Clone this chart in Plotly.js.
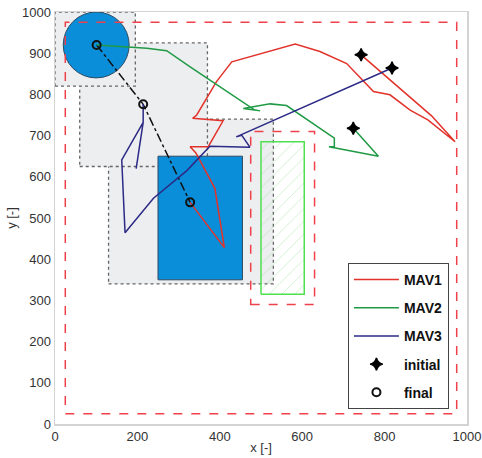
<!DOCTYPE html>
<html>
<head>
<meta charset="utf-8">
<script src="https://cdn.plot.ly/plotly-3.0.1.min.js"></script>
<style>html,body{margin:0;padding:0;background:#fff;}#chart{width:482px;height:458px;}</style>
</head>
<body>
<div id="chart"></div>
<script>
// ---- data ----
const mav1X = [743, 914, 971, 905, 862, 813, 773, 708, 643, 583, 429, 392, 344, 334, 408, 372, 328, 342, 388, 411, 328];
const mav1Y = [896, 748, 685, 738, 762, 799, 807, 875, 904, 922, 879, 831, 750, 742, 736, 673, 673, 658, 572, 428, 538];

const mav2X = [724, 785, 665, 678, 678, 640, 595, 562, 522, 481, 457, 498, 485, 328, 271, 223, 109, 101];
const mav2Y = [718, 650, 673, 673, 694, 720, 750, 773, 777, 770, 766, 760, 762, 867, 906, 912, 918, 920];

const mav3X = [818, 440, 453, 473, 376, 320, 239, 170, 162, 214, 197, 214, 214];
const mav3Y = [864, 697, 701, 672, 674, 615, 548, 464, 641, 732, 620, 732, 776];

const initialX = [743, 724, 818];
const initialY = [896, 718, 864];
const finalX = [101, 214, 328];
const finalY = [920, 776, 538];

// zones: [x0, x1, y0, y1]
const greyZones = [[130, 530, 340, 740], [60, 370, 625, 925], [0, 195, 820, 1000]];
const blueRect = [250, 455, 350, 650];
const blueCircle = [20, 180, 840, 1000];
const outerBound = [25, 975, 25, 975];
const innerBound = [475, 630, 290, 710];
const hatchRect = [500, 605, 315, 685];

const xTicks = [0, 200, 400, 600, 800, 1000];
const yTicks = [0, 100, 200, 300, 400, 500, 600, 700, 800, 900, 1000];

// ---- shapes ----
const shapes = [];
greyZones.forEach(z => shapes.push({type: 'rect', layer: 'below', xref: 'x', yref: 'y',
  x0: z[0], x1: z[1], y0: z[2], y1: z[3], fillcolor: '#edeef0',
  line: {color: '#666', width: 1.3, dash: 'dot'}}));
shapes.push({type: 'rect', layer: 'below', xref: 'x', yref: 'y',
  x0: blueRect[0], x1: blueRect[1], y0: blueRect[2], y1: blueRect[3],
  fillcolor: '#0a8ed9', line: {color: '#2e4b63', width: 1}});
shapes.push({type: 'circle', layer: 'below', xref: 'x', yref: 'y',
  x0: blueCircle[0], x1: blueCircle[1], y0: blueCircle[2], y1: blueCircle[3],
  fillcolor: '#0a8ed9', line: {color: '#2e4b63', width: 1}});
[outerBound, innerBound].forEach(b => shapes.push({type: 'rect', layer: 'below', xref: 'x', yref: 'y',
  x0: b[0], x1: b[1], y0: b[2], y1: b[3], fillcolor: 'rgba(0,0,0,0)',
  line: {color: '#f0404a', width: 1.5, dash: 'dash'}}));

const red = '#e2332b', green = '#1f9a45', navy = '#2c2a86';

const traces = [
  {x: [hatchRect[0], hatchRect[1], hatchRect[1], hatchRect[0], hatchRect[0]],
   y: [hatchRect[2], hatchRect[2], hatchRect[3], hatchRect[3], hatchRect[2]],
   mode: 'lines', fill: 'toself', fillcolor: 'rgba(255,255,255,0)',
   fillpattern: {shape: '/', fgcolor: 'rgba(120,210,120,0.45)', bgcolor: 'rgba(255,255,255,0)', size: 9, solidity: 0.08},
   line: {color: '#4fe04f', width: 1.5}, showlegend: false, hoverinfo: 'skip'},
  {x: finalX, y: finalY, mode: 'lines', line: {color: '#111', width: 1.5, dash: 'dashdot'}, showlegend: false},
  {x: mav1X, y: mav1Y, mode: 'lines', name: 'MAV1', legendgroup: 'a', line: {color: red, width: 1.5}},
  {x: mav2X, y: mav2Y, mode: 'lines', name: 'MAV2', legendgroup: 'b', line: {color: green, width: 1.5}},
  {x: mav3X, y: mav3Y, mode: 'lines', name: 'MAV3', legendgroup: 'c', line: {color: navy, width: 1.5}},
  {x: initialX, y: initialY, mode: 'markers', name: 'initial', legendgroup: 'd',
   marker: {symbol: 'star-diamond', size: 9, color: '#000', line: {color: '#000', width: 1.5}}},
  {x: finalX, y: finalY, mode: 'markers', name: 'final', legendgroup: 'e',
   marker: {symbol: 'circle-open', size: 8, color: '#111', line: {width: 2}}}
];

const axisCommon = {showgrid: false, zeroline: false, showline: true, mirror: true,
  linecolor: '#d4d4d4', linewidth: 1.5, ticks: '', tickfont: {size: 13, color: '#333', family: 'Liberation Sans, Arial, sans-serif'},
  fixedrange: true};

const layout = {
  width: 482, height: 458,
  margin: {l: 55, r: 15, t: 12, b: 34},
  paper_bgcolor: '#fff', plot_bgcolor: '#fff',
  font: {family: 'Liberation Sans, Arial, sans-serif', color: '#222'},
  xaxis: Object.assign({}, axisCommon, {range: [0, 1000], tickvals: xTicks, ticktext: xTicks.map(String),
    title: {text: 'x [-]', font: {size: 13, color: '#333'}, standoff: 0}, automargin: false}),
  yaxis: Object.assign({}, axisCommon, {range: [0, 1000], tickvals: yTicks, ticktext: yTicks.map(String),
    title: {text: 'y [-]', font: {size: 13, color: '#333'}, standoff: 2}, automargin: false}),
  shapes: shapes,
  showlegend: true,
  legend: {x: 0.711, y: 0.391, xanchor: 'left', yanchor: 'top', bgcolor: '#fff',
    bordercolor: '#444', borderwidth: 1, font: {size: 14, color: '#111', weight: 'bold'},
    tracegroupgap: 7, itemwidth: 45, traceorder: 'grouped'}
};

Plotly.newPlot('chart', traces, layout, {staticPlot: true, displayModeBar: false});
</script>
</body>
</html>
